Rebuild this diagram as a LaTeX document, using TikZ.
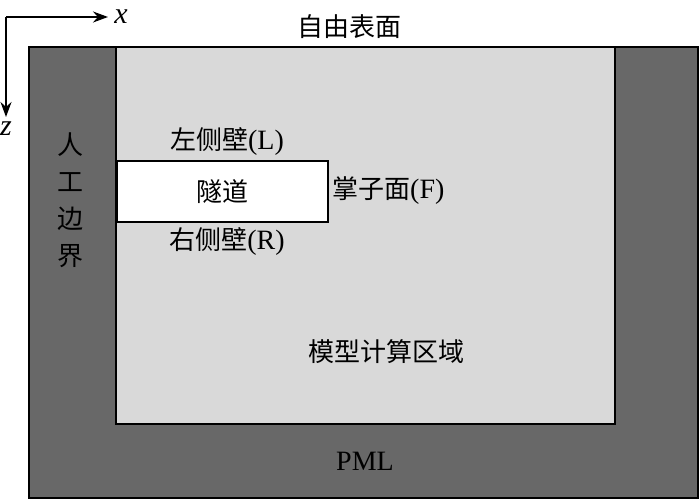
\documentclass[tikz,border=0pt]{standalone}
\usepackage{fontspec}
\setmainfont{Liberation Serif}
\newfontfamily\cjk{Noto Sans CJK SC}
\usetikzlibrary{arrows.meta}
\definecolor{darkg}{HTML}{686868}
\definecolor{lightg}{HTML}{D9D9D9}
\tikzset{
  lbl/.style={font=\fontsize{26}{30}\selectfont\cjk, inner sep=0pt},
  lat/.style={font=\fontsize{28}{32}\selectfont, inner sep=0pt},
  axis/.style={line width=1.5pt, -{Stealth[length=15pt,width=11pt]}},
  region/.style={draw=black, line width=1.5pt}
}
\begin{document}
\begin{tikzpicture}[x=1pt,y=-1pt]
\useasboundingbox (0,0) rectangle (700,500);
\draw[region, fill=darkg] (29,47) rectangle (698,498);
\draw[region, fill=lightg] (116,47) rectangle (615,424);
\node[region, fill=white, minimum width=211pt, minimum height=61pt, inner sep=0pt, anchor=north west] (tunnel) at (116,160) {};
\node[lbl] at (tunnel.center) {隧道};
\coordinate (o) at (6,17);
\coordinate (xe) at (108,17);
\coordinate (ze) at (6,117);
\draw[axis] (o) -- (xe);
\draw[axis] (o) -- (ze);
\node[lat, font=\fontsize{30}{32}\selectfont\itshape, anchor=base] (xl) at (121,24) {x};
\node[lat, font=\fontsize{30}{32}\selectfont\itshape, anchor=base] (zl) at (6,135) {z};
\node[lbl] (free) at (349,27) {自由表面};
\node[lbl, align=center, font=\fontsize{26}{37}\selectfont\cjk] (art) at (70,200) {人\\工\\边\\界};
\node[lbl] (left) at (227,142) {左侧壁{\fontsize{28}{30}\fontspec{Liberation Serif}(L)}};
\node[lbl] (right) at (227,242) {右侧壁{\fontsize{28}{30}\fontspec{Liberation Serif}(R)}};
\node[lbl, anchor=west] (face) at (332,191) {掌子面{\fontsize{28}{30}\fontspec{Liberation Serif}(F)}};
\node[lbl] (model) at (386,352) {模型计算区域};
\node[lat] (pml) at (365,461) {PML};
\end{tikzpicture}
\end{document}
